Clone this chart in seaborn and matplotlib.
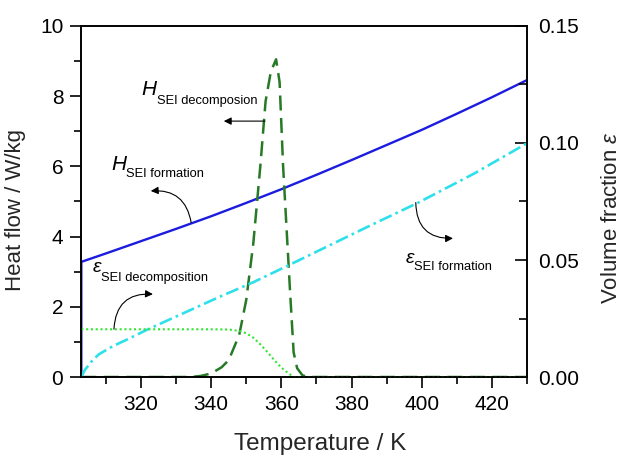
import numpy as np
import pandas as pd
import seaborn as sns
import matplotlib
matplotlib.use("Agg")
import matplotlib.pyplot as plt
from matplotlib.ticker import MultipleLocator, FormatStrFormatter

# ---- data ----
T_form = [303, 303, 310, 320, 330, 340, 350, 360, 370, 380, 390, 400, 410, 420, 430]
H_form = [0, 3.28, 3.52, 3.87, 4.22, 4.58, 4.96, 5.35, 5.76, 6.18, 6.61, 7.04, 7.50, 7.97, 8.46]

T_dec_H = [303, 334, 337, 340, 343, 345, 348, 350, 352, 354, 355.5, 357, 358.5, 359.5,
           360.5, 361.5, 362.5, 363.5, 364.5, 366, 367.5, 430]
H_dec = [0, 0, 0.03, 0.1, 0.28, 0.48, 1.2, 2.2, 3.8, 6.0, 7.85, 8.7, 9.05, 8.4,
         6.0, 4.2, 2.4, 0.7, 0.25, 0.05, 0, 0]

T_eps_form = [303, 304, 306, 308, 312, 316, 322, 332, 342, 352, 362, 372, 385, 399, 415, 430]
eps_form = [0, 0.003, 0.0068, 0.0097, 0.0132, 0.016, 0.0204, 0.0272, 0.034, 0.0405,
            0.0477, 0.055, 0.0645, 0.0745, 0.087, 0.0999]

T_eps_dec = [303, 340, 345, 348, 350, 352, 354, 356, 358, 360, 362, 363.5, 365, 430]
eps_dec = [0.0204, 0.0204, 0.0203, 0.0197, 0.0187, 0.0168, 0.0140, 0.0107, 0.0072,
           0.0040, 0.0016, 0.0, 0.0, 0.0]

x_ticks = [320, 340, 360, 380, 400, 420]
y_left_ticks = [0, 2, 4, 6, 8, 10]
y_right_ticks = [0.00, 0.05, 0.10, 0.15]

# ---- style ----
sns.set_theme(style="white")
plt.rcParams['font.family'] = ['Liberation Sans', 'DejaVu Sans']
plt.rcParams['mathtext.fontset'] = 'custom'
plt.rcParams['mathtext.rm'] = 'Liberation Sans'
plt.rcParams['mathtext.it'] = 'Liberation Sans:italic'
plt.rcParams['axes.edgecolor'] = 'black'
plt.rcParams['axes.linewidth'] = 1.2

fig = plt.figure(figsize=(6.24, 4.55), dpi=100)
ax = fig.add_axes([0.1303, 0.1714, 0.8446 - 0.1303, 0.9429 - 0.1714])
ax2 = ax.twinx()

c_blue = '#1c1ce0'
c_cyan = '#2ee0ea'
c_lgreen = '#33e633'
c_dgreen = '#267a26'

df_hf = pd.DataFrame({'T': T_form, 'v': H_form})
df_hd = pd.DataFrame({'T': T_dec_H, 'v': H_dec})
df_ef = pd.DataFrame({'T': T_eps_form, 'v': eps_form})
df_ed = pd.DataFrame({'T': T_eps_dec, 'v': eps_dec})

sns.lineplot(data=df_hf, x='T', y='v', ax=ax, color=c_blue, lw=1.7,
             estimator=None, sort=False)
sns.lineplot(data=df_hd, x='T', y='v', ax=ax, color=c_dgreen, lw=1.8,
             estimator=None, sort=False, linestyle=(0, (6, 3)))
sns.lineplot(data=df_ef, x='T', y='v', ax=ax2, color=c_cyan, lw=1.9,
             estimator=None, sort=False, linestyle=(0, (5, 1.6, 1, 1.6)))
sns.lineplot(data=df_ed, x='T', y='v', ax=ax2, color=c_lgreen, lw=1.5,
             estimator=None, sort=False, linestyle=(0, (1, 1.3)))

ax.set_xlim(303, 430)
ax.set_ylim(0, 10)
ax2.set_ylim(0, 0.15)

ax.set_xticks(x_ticks)
ax.set_yticks(y_left_ticks)
ax.xaxis.set_minor_locator(MultipleLocator(10))
ax.yaxis.set_minor_locator(MultipleLocator(1))
ax2.set_yticks(y_right_ticks)
ax2.yaxis.set_major_formatter(FormatStrFormatter('%.2f'))
ax2.yaxis.set_minor_locator(MultipleLocator(0.025))

ax.tick_params(axis='both', which='major', direction='out', length=8, width=1.2,
               labelsize=15, pad=5, colors='black', right=False, top=False)
ax.tick_params(axis='both', which='minor', direction='out', length=5, width=1.2,
               colors='black', right=False, top=False)
ax.tick_params(axis='x', which='both', bottom=True)
ax.tick_params(axis='y', which='both', left=True)
ax2.tick_params(axis='y', which='major', direction='in', length=9, width=1.2,
                labelsize=15, pad=8, colors='black', right=True, left=False)
ax2.tick_params(axis='y', which='minor', direction='in', length=6, width=1.2,
                colors='black', right=True, left=False)

for a in (ax, ax2):
    for s in a.spines.values():
        s.set_visible(True)
        s.set_color('black')
        s.set_linewidth(1.2)
ax.grid(False)
ax2.grid(False)

ax.set_xlabel('Temperature / K', fontsize=17.5)
ax.set_ylabel('Heat flow / W/kg', fontsize=16)
ax2.set_ylabel('Volume fraction $\\varepsilon$', fontsize=16)
ax.xaxis.set_label_coords(0.5356, -0.16)
ax.yaxis.set_label_coords(-0.124, 0.476)
ax2.yaxis.set_label_coords(1.166, 0.453)

# ---- annotations ----
def label(xH, yH, xs, ys, main, sub, main_size=15):
    ax.text(xH, yH, main, fontsize=main_size, style='italic', ha='left', va='baseline',
            color='black')
    ax.text(xs, ys, sub, fontsize=9.3, ha='left', va='baseline', color='black')

label(320.0, 8.03, 324.6, 7.78, 'H', 'SEI decomposion')
label(311.7, 5.90, 315.7, 5.70, 'H', 'SEI formation')
label(306.2, 2.99, 308.7, 2.74, '\u03b5', 'SEI decomposition', main_size=14)
label(395.5, 3.25, 397.8, 3.05, '\u03b5', 'SEI formation', main_size=14)

def arrow(start, end, rad):
    ax.annotate('', xy=end, xytext=start,
                arrowprops=dict(arrowstyle='-|>', color='black', lw=0.8,
                                mutation_scale=11, shrinkA=0, shrinkB=0,
                                connectionstyle=f'arc3,rad={rad}'))

arrow((355.3, 7.29), (343.6, 7.29), 0)
arrow((334.3, 4.40), (322.8, 5.30), 0.45)
arrow((312.3, 1.36), (323.4, 2.36), -0.5)
arrow((398.3, 4.97), (408.9, 3.95), 0.5)

fig.savefig('out.png', dpi=100)
